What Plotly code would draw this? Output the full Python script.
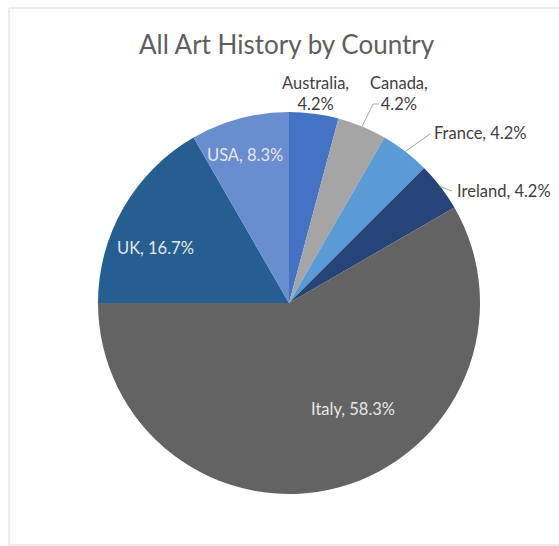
import math
import plotly.graph_objects as go

# Share of art-history works by country
countries = ["Australia", "Canada", "France", "Ireland", "Italy", "UK", "USA"]
counts = [1, 1, 1, 1, 14, 4, 2]
slice_colors = ["#4472C4", "#A5A5A5", "#5B9BD5", "#264478", "#636363", "#255E91", "#698ED0"]

W, H = 559, 546
CX, CY, R = 289, 303, 191  # pie centre and radius in pixels
FONT = "Lato, Open Sans, sans-serif"


def paper(x, y):
    return x / W, 1 - y / H


total = sum(counts)
fractions = [c / total for c in counts]
mid_angles = []
acc = 0.0
for f in fractions:
    mid_angles.append((acc + f / 2) * 360)
    acc += f


def edge_point(angle_deg, k=1.0):
    a = math.radians(angle_deg)
    return CX + R * k * math.sin(a), CY - R * k * math.cos(a)


def label_text(name, frac, two_lines=False):
    sep = ",<br>" if two_lines else ", "
    return f"{name}{sep}{frac * 100:.1f}%"


fig = go.Figure(
    go.Pie(
        labels=countries,
        values=counts,
        sort=False,
        direction="clockwise",
        rotation=0,
        marker=dict(colors=slice_colors, line=dict(width=0)),
        textinfo="none",
        hoverinfo="label+percent",
        showlegend=False,
        domain=dict(x=[(CX - R) / W, (CX + R) / W], y=[1 - (CY + R) / H, 1 - (CY - R) / H]),
    )
)

annotations = []
shapes = []

# label placement: (x, y, xanchor, two_lines, inside, leader_end)
placement = {
    "Australia": (315, 93, "center", True, False, None),
    "Canada": (399, 93, "center", True, False, (379, 104)),
    "France": (432, 133, "left", False, False, (430, 134)),
    "Ireland": (455, 191, "left", False, False, (452, 191)),
    "Italy": (353, 409, "center", False, True, None),
    "UK": (155, 248, "center", False, True, None),
    "USA": (245, 155, "center", False, True, None),
}

for name, frac, ang in zip(countries, fractions, mid_angles):
    x, y, xa, two, inside, leader = placement[name]
    ax, ay = paper(x, y)
    annotations.append(dict(
        x=ax, y=ay, xref="paper", yref="paper",
        text=label_text(name, frac, two),
        showarrow=False, xanchor=xa, yanchor="middle", align="center",
        font=dict(family=FONT, size=16.5, color="#E6E6E6" if inside else "#404040"),
    ))
    if leader is not None:
        sx, sy = edge_point(ang)
        ex, ey = leader
        if name == "Canada":
            pts = [(sx, sy), (ex - 6, ey), (ex, ey)]
        else:
            pts = [(sx, sy), (ex, ey)]
        path = "M " + " L ".join(f"{paper(px, py)[0]},{paper(px, py)[1]}" for px, py in pts)
        shapes.append(dict(type="path", xref="paper", yref="paper", path=path,
                           line=dict(color="#A6A6A6", width=1)))

# chart-area frame
x0, y1 = paper(9, 8)
x1, y0 = paper(W + 5, 545)
shapes.append(dict(type="rect", xref="paper", yref="paper", x0=x0, y0=y0, x1=x1, y1=y1,
                   line=dict(color="#D9D9D9", width=1), fillcolor="rgba(0,0,0,0)", layer="below"))

tx, ty = paper(287, 44)
annotations.append(dict(
    x=tx, y=ty, xref="paper", yref="paper", text="All Art History by Country",
    showarrow=False, xanchor="center", yanchor="middle",
    font=dict(family=FONT, size=26, color="#5E5E5E"),
))

fig.update_layout(
    width=W, height=H,
    margin=dict(l=0, r=0, t=0, b=0),
    paper_bgcolor="white", plot_bgcolor="white",
    annotations=annotations, shapes=shapes,
)

fig.write_html("out.html")
